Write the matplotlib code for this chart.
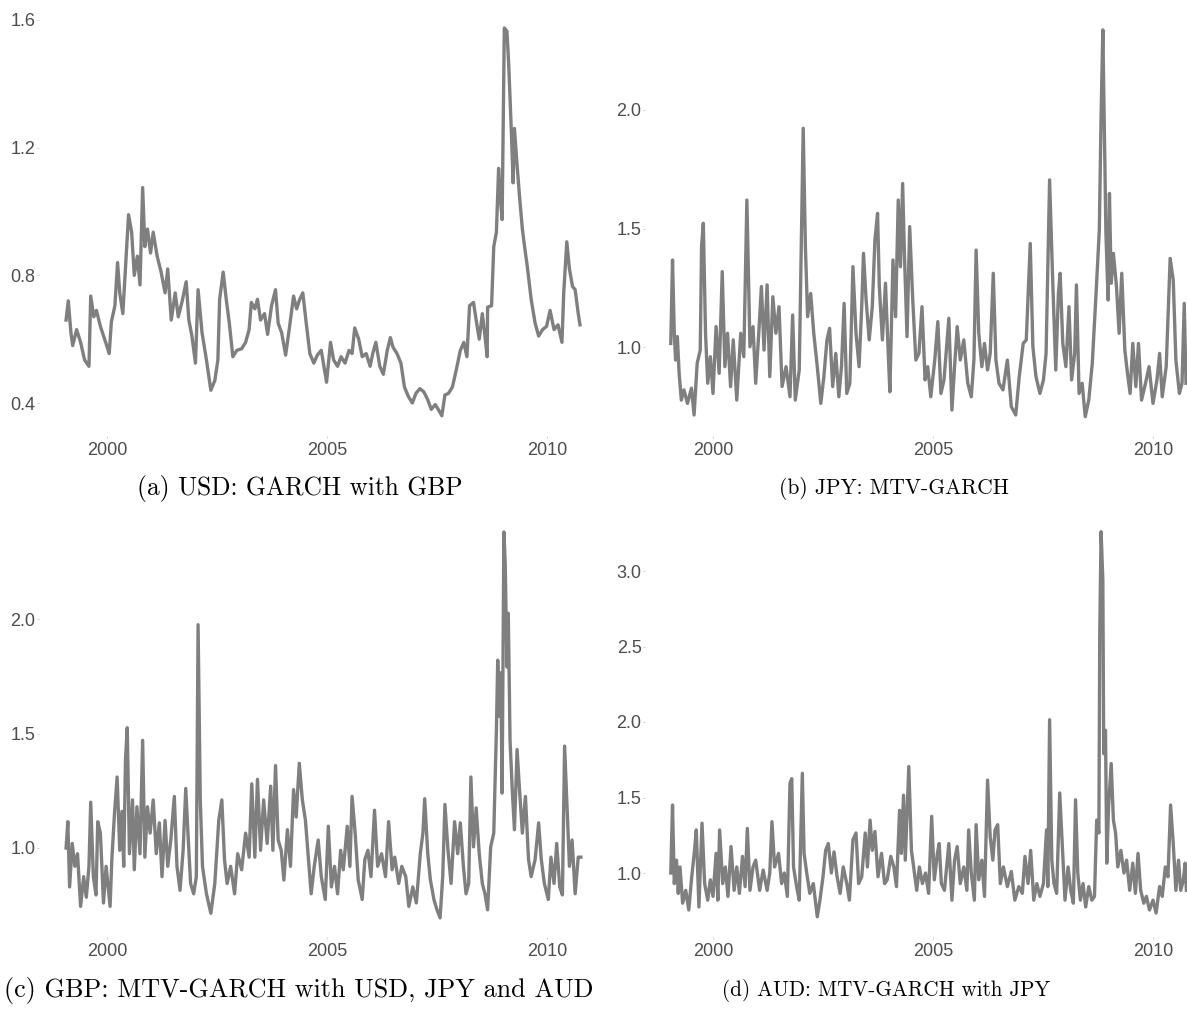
import matplotlib
matplotlib.use("Agg")
import matplotlib.pyplot as plt

# volatility series (decimal year, value)
usd_gbp = [(1999.07,0.66),(1999.12,0.72),(1999.18,0.62),(1999.22,0.58),(1999.31,0.63),(1999.40,0.59),(1999.49,0.535),(1999.59,0.515),(1999.63,0.735),(1999.70,0.67),(1999.76,0.69),(1999.85,0.64),(1999.97,0.59),(2000.05,0.555),(2000.10,0.655),(2000.18,0.705),(2000.24,0.84),(2000.29,0.745),(2000.36,0.68),(2000.43,0.85),(2000.49,0.99),(2000.56,0.935),(2000.62,0.80),(2000.69,0.86),(2000.75,0.77),(2000.81,1.075),(2000.86,0.89),(2000.92,0.945),(2000.99,0.87),(2001.05,0.935),(2001.14,0.86),(2001.23,0.81),(2001.32,0.745),(2001.38,0.82),(2001.46,0.66),(2001.55,0.745),(2001.62,0.67),(2001.71,0.72),(2001.80,0.78),(2001.86,0.66),(2001.93,0.61),(2002.01,0.525),(2002.07,0.755),(2002.16,0.62),(2002.26,0.535),(2002.36,0.44),(2002.45,0.47),(2002.52,0.535),(2002.56,0.725),(2002.64,0.81),(2002.71,0.725),(2002.78,0.65),(2002.86,0.545),(2002.95,0.565),(2003.06,0.57),(2003.15,0.59),(2003.23,0.63),(2003.28,0.715),(2003.36,0.695),(2003.42,0.725),(2003.49,0.66),(2003.58,0.68),(2003.65,0.615),(2003.74,0.705),(2003.83,0.755),(2003.89,0.65),(2003.97,0.62),(2004.06,0.55),(2004.15,0.64),(2004.24,0.735),(2004.31,0.695),(2004.38,0.725),(2004.45,0.745),(2004.52,0.66),(2004.61,0.555),(2004.70,0.525),(2004.78,0.55),(2004.87,0.565),(2004.93,0.515),(2004.99,0.465),(2005.08,0.59),(2005.15,0.535),(2005.24,0.515),(2005.32,0.545),(2005.41,0.525),(2005.50,0.565),(2005.57,0.555),(2005.63,0.635),(2005.72,0.60),(2005.80,0.545),(2005.89,0.555),(2005.98,0.515),(2006.04,0.555),(2006.11,0.59),(2006.20,0.515),(2006.28,0.49),(2006.37,0.565),(2006.44,0.605),(2006.50,0.575),(2006.59,0.555),(2006.68,0.525),(2006.76,0.45),(2006.85,0.42),(2006.94,0.40),(2007.02,0.43),(2007.11,0.445),(2007.20,0.435),(2007.29,0.41),(2007.37,0.38),(2007.46,0.395),(2007.55,0.375),(2007.61,0.36),(2007.68,0.425),(2007.76,0.43),(2007.85,0.45),(2007.94,0.505),(2008.03,0.565),(2008.11,0.59),(2008.18,0.545),(2008.24,0.705),(2008.33,0.715),(2008.39,0.66),(2008.46,0.60),(2008.53,0.68),(2008.59,0.61),(2008.64,0.545),(2008.65,0.70),(2008.74,0.705),(2008.79,0.89),(2008.85,0.935),(2008.90,1.135),(2008.94,1.04),(2008.98,0.975),(2009.03,1.575),(2009.09,1.565),(2009.13,1.46),(2009.19,1.25),(2009.23,1.09),(2009.26,1.26),(2009.32,1.145),(2009.38,1.04),(2009.44,0.945),(2009.49,0.89),(2009.55,0.83),(2009.64,0.725),(2009.73,0.65),(2009.81,0.61),(2009.90,0.63),(2009.99,0.64),(2010.07,0.69),(2010.16,0.63),(2010.25,0.645),(2010.34,0.59),(2010.38,0.745),(2010.45,0.905),(2010.51,0.82),(2010.58,0.765),(2010.64,0.755),(2010.71,0.68),(2010.75,0.645)]

jpy_mtv = [(1999.04,1.015),(1999.08,1.367),(1999.12,1.058),(1999.15,0.945),(1999.19,1.044),(1999.23,0.889),(1999.28,0.776),(1999.34,0.819),(1999.42,0.762),(1999.51,0.826),(1999.57,0.713),(1999.64,0.931),(1999.71,0.987),(1999.74,1.423),(1999.78,1.522),(1999.83,1.058),(1999.88,0.847),(1999.94,0.959),(2000.00,0.804),(2000.07,1.086),(2000.14,0.889),(2000.21,1.318),(2000.27,0.917),(2000.33,1.058),(2000.40,0.833),(2000.46,1.03),(2000.54,0.776),(2000.63,1.058),(2000.70,0.959),(2000.77,1.62),(2000.84,1.001),(2000.91,1.086),(2000.97,0.847),(2001.04,1.058),(2001.10,1.255),(2001.16,0.987),(2001.23,1.262),(2001.29,0.875),(2001.36,1.212),(2001.43,1.058),(2001.50,1.17),(2001.57,0.833),(2001.66,0.917),(2001.75,0.79),(2001.81,1.135),(2001.87,0.776),(2001.96,0.903),(2002.05,1.923),(2002.10,1.423),(2002.15,1.128),(2002.22,1.226),(2002.29,1.058),(2002.37,0.917),(2002.45,0.762),(2002.52,0.875),(2002.59,1.03),(2002.65,1.079),(2002.72,0.833),(2002.79,0.973),(2002.86,0.79),(2002.92,0.917),(2002.98,1.184),(2003.04,0.804),(2003.11,0.847),(2003.18,1.339),(2003.25,1.058),(2003.32,0.917),(2003.38,1.17),(2003.42,1.395),(2003.48,1.198),(2003.55,1.03),(2003.62,1.17),(2003.68,1.451),(2003.74,1.564),(2003.78,1.255),(2003.85,1.03),(2003.92,1.269),(2003.98,0.987),(2004.02,0.811),(2004.09,1.367),(2004.15,1.128),(2004.21,1.62),(2004.26,1.339),(2004.31,1.69),(2004.35,1.395),(2004.41,1.044),(2004.47,1.508),(2004.54,1.198),(2004.61,0.945),(2004.68,0.973),(2004.75,1.17),(2004.82,0.861),(2004.88,0.917),(2004.95,0.79),(2005.04,0.945),(2005.11,1.107),(2005.18,0.804),(2005.25,0.861),(2005.36,1.121),(2005.43,0.734),(2005.49,0.917),(2005.55,1.086),(2005.62,0.945),(2005.70,1.03),(2005.79,0.847),(2005.87,0.79),(2005.93,0.945),(2005.98,1.409),(2006.04,1.058),(2006.11,0.917),(2006.17,1.015),(2006.24,0.903),(2006.30,0.973),(2006.37,1.311),(2006.43,0.945),(2006.50,0.847),(2006.59,0.819),(2006.69,0.945),(2006.78,0.748),(2006.88,0.713),(2006.96,0.875),(2007.05,1.015),(2007.12,1.03),(2007.21,1.437),(2007.27,1.001),(2007.34,0.875),(2007.43,0.804),(2007.51,0.861),(2007.57,0.973),(2007.65,1.705),(2007.72,1.283),(2007.79,0.903),(2007.85,1.226),(2007.89,1.311),(2007.95,1.015),(2008.02,0.917),(2008.09,1.17),(2008.15,0.861),(2008.22,0.973),(2008.26,1.262),(2008.32,0.804),(2008.39,0.847),(2008.46,0.706),(2008.54,0.776),(2008.62,0.931),(2008.71,1.24),(2008.78,1.494),(2008.82,1.972),(2008.86,2.338),(2008.89,1.958),(2008.93,1.48),(2008.98,1.198),(2009.01,1.648),(2009.05,1.269),(2009.10,1.395),(2009.17,1.255),(2009.23,1.058),(2009.29,1.311),(2009.36,0.987),(2009.42,0.889),(2009.48,0.804),(2009.54,1.015),(2009.61,0.833),(2009.67,1.015),(2009.74,0.776),(2009.83,0.847),(2009.91,0.917),(2010.00,0.762),(2010.09,0.861),(2010.15,0.973),(2010.21,0.79),(2010.30,0.917),(2010.39,1.374),(2010.46,1.283),(2010.52,0.945),(2010.60,0.804),(2010.66,0.847),(2010.71,1.184),(2010.75,0.847)]

gbp_mtv = [(1999.07,1.00),(1999.11,1.115),(1999.15,0.83),(1999.21,1.02),(1999.27,0.92),(1999.33,0.975),(1999.40,0.745),(1999.47,0.875),(1999.53,0.785),(1999.59,0.92),(1999.63,1.20),(1999.69,0.875),(1999.75,0.795),(1999.79,1.115),(1999.85,1.065),(1999.92,0.76),(1999.98,0.92),(2000.07,0.745),(2000.11,0.95),(2000.17,1.15),(2000.23,1.31),(2000.29,0.99),(2000.34,1.16),(2000.38,0.92),(2000.42,1.385),(2000.46,1.525),(2000.51,0.975),(2000.58,1.21),(2000.62,0.905),(2000.68,1.18),(2000.75,0.975),(2000.81,1.47),(2000.86,0.96),(2000.92,1.18),(2000.98,1.065),(2001.05,1.21),(2001.12,0.975),(2001.19,1.11),(2001.25,0.875),(2001.32,1.12),(2001.38,0.92),(2001.45,1.035),(2001.53,1.225),(2001.59,0.92),(2001.66,0.815),(2001.73,0.99),(2001.79,1.26),(2001.84,1.065),(2001.90,0.845),(2001.97,0.80),(2002.03,0.875),(2002.07,1.975),(2002.12,1.21),(2002.17,0.92),(2002.26,0.80),(2002.36,0.715),(2002.45,0.845),(2002.54,1.12),(2002.61,1.21),(2002.67,0.95),(2002.73,0.845),(2002.81,0.92),(2002.90,0.80),(2002.97,0.975),(2003.06,0.905),(2003.15,1.065),(2003.23,0.96),(2003.29,1.28),(2003.36,0.96),(2003.42,1.30),(2003.49,0.99),(2003.56,1.21),(2003.64,1.02),(2003.72,1.27),(2003.77,0.99),(2003.83,1.36),(2003.89,1.035),(2003.96,0.99),(2004.02,0.86),(2004.10,1.08),(2004.17,0.92),(2004.24,1.255),(2004.30,1.135),(2004.37,1.37),(2004.44,1.21),(2004.51,1.12),(2004.57,0.975),(2004.64,0.80),(2004.71,0.92),(2004.80,1.035),(2004.87,0.875),(2004.96,0.775),(2005.03,1.095),(2005.10,0.83),(2005.17,0.92),(2005.24,0.80),(2005.31,0.99),(2005.37,0.905),(2005.46,1.095),(2005.52,0.92),(2005.57,1.225),(2005.64,1.065),(2005.71,0.86),(2005.80,0.775),(2005.86,0.95),(2005.93,0.99),(2006.00,0.875),(2006.08,1.165),(2006.15,0.92),(2006.24,0.975),(2006.33,0.875),(2006.40,1.115),(2006.48,0.905),(2006.54,0.96),(2006.63,0.845),(2006.70,0.92),(2006.79,0.875),(2006.86,0.745),(2006.95,0.83),(2007.03,0.76),(2007.12,0.975),(2007.18,1.065),(2007.22,1.215),(2007.29,0.975),(2007.35,0.86),(2007.43,0.775),(2007.50,0.73),(2007.57,0.695),(2007.63,0.875),(2007.68,1.19),(2007.75,0.99),(2007.82,0.845),(2007.90,1.115),(2007.97,0.975),(2008.03,1.11),(2008.10,0.92),(2008.16,0.80),(2008.22,0.845),(2008.27,1.31),(2008.33,1.005),(2008.39,1.175),(2008.46,0.975),(2008.53,0.845),(2008.59,0.80),(2008.65,0.73),(2008.72,1.005),(2008.79,1.065),(2008.85,1.515),(2008.88,1.82),(2008.92,1.575),(2008.95,1.765),(2008.98,1.24),(2009.02,2.38),(2009.05,2.245),(2009.09,1.79),(2009.12,2.025),(2009.16,1.47),(2009.21,1.255),(2009.26,1.08),(2009.32,1.43),(2009.38,1.24),(2009.44,1.065),(2009.51,1.225),(2009.58,0.95),(2009.64,0.875),(2009.73,0.95),(2009.81,1.11),(2009.87,0.95),(2009.94,0.845),(2010.03,0.775),(2010.09,0.96),(2010.16,0.845),(2010.22,1.02),(2010.29,0.83),(2010.35,0.795),(2010.40,1.445),(2010.45,1.21),(2010.51,0.92),(2010.57,1.035),(2010.64,0.80),(2010.71,0.96),(2010.77,0.96)]

aud_mtv = [(1999.04,1.00),(1999.08,1.45),(1999.12,0.93),(1999.17,1.085),(1999.21,0.865),(1999.25,1.04),(1999.31,0.80),(1999.38,0.885),(1999.45,0.755),(1999.51,0.955),(1999.58,1.15),(1999.62,1.285),(1999.68,0.775),(1999.75,1.33),(1999.81,0.93),(1999.88,0.82),(1999.94,0.955),(2000.00,0.845),(2000.07,1.13),(2000.11,0.82),(2000.15,1.285),(2000.22,0.93),(2000.28,1.04),(2000.34,0.845),(2000.41,1.175),(2000.48,0.885),(2000.54,1.04),(2000.60,0.865),(2000.67,1.11),(2000.73,0.91),(2000.78,1.295),(2000.84,0.885),(2000.91,1.04),(2000.97,1.085),(2001.06,0.885),(2001.14,1.02),(2001.23,0.885),(2001.29,1.00),(2001.34,1.34),(2001.40,1.04),(2001.49,1.13),(2001.56,0.93),(2001.62,1.00),(2001.69,0.845),(2001.75,1.595),(2001.79,1.625),(2001.83,1.04),(2001.90,0.91),(2001.96,0.82),(2002.03,1.66),(2002.07,1.13),(2002.13,1.00),(2002.20,0.865),(2002.28,0.93),(2002.37,0.71),(2002.43,0.82),(2002.50,0.975),(2002.56,1.15),(2002.62,1.195),(2002.69,1.00),(2002.75,1.14),(2002.82,0.975),(2002.89,0.865),(2002.96,1.04),(2003.04,0.93),(2003.10,0.82),(2003.18,1.22),(2003.25,1.265),(2003.31,0.93),(2003.38,0.975),(2003.46,1.265),(2003.51,1.04),(2003.57,1.35),(2003.62,1.15),(2003.68,1.275),(2003.75,0.975),(2003.83,1.13),(2003.90,0.93),(2003.96,0.955),(2004.04,1.11),(2004.11,1.04),(2004.17,0.91),(2004.24,1.415),(2004.28,1.13),(2004.33,1.515),(2004.37,1.085),(2004.41,1.405),(2004.45,1.705),(2004.51,1.15),(2004.56,1.04),(2004.63,0.885),(2004.69,1.04),(2004.76,0.93),(2004.83,1.00),(2004.90,0.865),(2004.97,1.375),(2005.03,0.955),(2005.10,1.13),(2005.14,1.195),(2005.19,0.93),(2005.26,0.885),(2005.36,1.195),(2005.43,0.82),(2005.49,1.085),(2005.55,1.175),(2005.62,0.93),(2005.70,1.04),(2005.77,0.885),(2005.81,1.285),(2005.87,1.00),(2005.94,0.82),(2005.98,1.32),(2006.04,0.955),(2006.11,1.085),(2006.17,0.845),(2006.24,1.615),(2006.30,1.24),(2006.36,1.085),(2006.41,1.285),(2006.47,1.32),(2006.53,0.93),(2006.60,1.04),(2006.69,0.91),(2006.78,1.01),(2006.86,0.82),(2006.95,0.91),(2007.03,0.865),(2007.09,1.11),(2007.16,0.93),(2007.22,1.15),(2007.29,0.82),(2007.36,0.93),(2007.43,0.845),(2007.51,0.93),(2007.58,1.285),(2007.61,0.91),(2007.65,2.015),(2007.70,1.085),(2007.75,0.93),(2007.81,0.865),(2007.88,1.53),(2007.95,1.11),(2008.00,0.82),(2008.07,1.04),(2008.13,0.885),(2008.19,0.80),(2008.24,1.485),(2008.29,1.00),(2008.35,0.82),(2008.41,0.93),(2008.47,0.775),(2008.54,0.91),(2008.61,0.82),(2008.67,0.845),(2008.72,1.35),(2008.77,1.265),(2008.79,2.59),(2008.82,3.26),(2008.86,2.94),(2008.88,1.79),(2008.92,1.945),(2008.95,1.065),(2008.99,1.44),(2009.05,1.725),(2009.10,1.35),(2009.15,1.265),(2009.20,1.04),(2009.27,1.15),(2009.34,1.00),(2009.40,1.085),(2009.47,0.885),(2009.54,1.065),(2009.60,0.865),(2009.66,1.13),(2009.72,0.885),(2009.79,0.80),(2009.85,0.845),(2009.92,0.755),(2010.00,0.82),(2010.07,0.735),(2010.15,0.91),(2010.21,0.845),(2010.28,1.04),(2010.34,0.975),(2010.40,1.45),(2010.46,1.195),(2010.52,0.885),(2010.58,1.085),(2010.63,0.885),(2010.69,0.955),(2010.73,1.065),(2010.76,0.885)]

x_ticks = [2000, 2005, 2010]
x_labels = ["2000", "2005", "2010"]

captions = ["(a) USD: GARCH with GBP",
            "(b) JPY: MTV-GARCH",
            "(c) GBP: MTV-GARCH with USD, JPY and AUD",
            "(d) AUD: MTV-GARCH with JPY"]
y_ticks = [[0.4, 0.8, 1.2, 1.6],
           [1.0, 1.5, 2.0],
           [1.0, 1.5, 2.0],
           [1.0, 1.5, 2.0, 2.5, 3.0]]
series = [usd_gbp, jpy_mtv, gbp_mtv, aud_mtv]

# --- layout (pixels in a 1187x1011 canvas) ---
W, H = 1187, 1011
xlim = (1998.45, 2011.35)
px_year = 44.0
col_x2000 = [107, 713]
rows = [(12, 436), (514, 937)]
# two (value, pixel-y) anchors per panel, used to place the y range
anchors = [((1.6, 20), (0.4, 403)),
           ((2.0, 110), (1.0, 347)),
           ((2.0, 619), (1.0, 848)),
           ((3.0, 571), (1.0, 873))]
cap_pos = [(300, 489), (894, 489), (299, 990), (886, 990)]
cap_size = [18.3, 15.5, 18.8, 15.2]

fig = plt.figure(figsize=(W / 100, H / 100), dpi=100)

for i in range(4):
    r, c = divmod(i, 2)
    top, bot = rows[r]
    left = col_x2000[c] - (2000 - xlim[0]) * px_year
    width = (xlim[1] - xlim[0]) * px_year
    ax = fig.add_axes([left / W, 1 - bot / H, width / W, (bot - top) / H])

    (v_hi, p_hi), (v_lo, p_lo) = anchors[i]
    scale = (p_lo - p_hi) / (v_hi - v_lo)
    ax.set_ylim(v_lo - (bot - p_lo) / scale, v_hi + (p_hi - top) / scale)
    ax.set_xlim(*xlim)

    t, v = zip(*series[i])
    ax.plot(t, v, color="#7f7f7f", lw=2.4, solid_joinstyle="round")

    for s in ax.spines.values():
        s.set_visible(False)
    ax.set_xticks(x_ticks)
    ax.set_xticklabels(x_labels)
    ax.set_yticks(y_ticks[i])
    ax.set_yticklabels(["%.1f" % y for y in y_ticks[i]])
    ax.tick_params(axis="both", length=1.5, width=0.6, color="#c8c8c8",
                   labelcolor="#4d4d4d", labelsize=13)
    ax.tick_params(axis="x", pad=3)
    ax.tick_params(axis="y", pad=0.8)
    for lab in ax.get_xticklabels() + ax.get_yticklabels():
        lab.set_fontfamily("Liberation Sans")

    cx, cy = cap_pos[i]
    fig.text(cx / W, 1 - cy / H, captions[i], ha="center", va="center",
             fontsize=cap_size[i], fontfamily="cmr10", color="black")

fig.savefig("out.png", dpi=100)
